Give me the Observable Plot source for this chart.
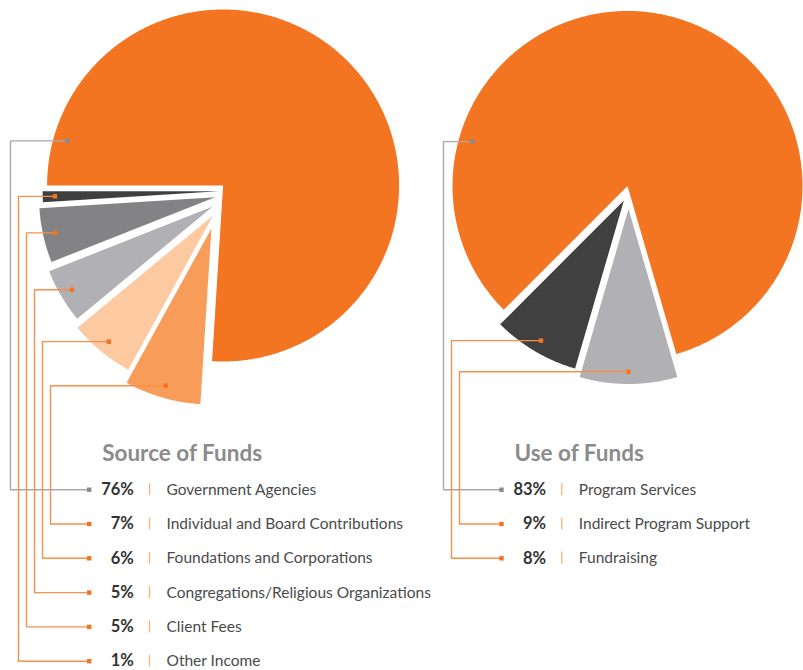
<!DOCTYPE html>
<html>
<head>
<meta charset="utf-8">
<script src="https://cdn.jsdelivr.net/npm/d3@7"></script>
<script src="https://cdn.jsdelivr.net/npm/@observablehq/plot@0.6"></script>
<style>
  html, body { margin: 0; padding: 0; background: #fff; }
  #chart { width: 803px; height: 670px; }
</style>
</head>
<body>
<div id="chart"></div>
<script>
// ---------- DATA ----------
const chartTitles = ["Source of Funds", "Use of Funds"];
const sourceCategories = [
  "Government Agencies",
  "Individual and Board Contributions",
  "Foundations and Corporations",
  "Congregations/Religious Organizations",
  "Client Fees",
  "Other Income"
];
const sourceValues = [76, 7, 6, 5, 5, 1];
const useCategories = ["Program Services", "Indirect Program Support", "Fundraising"];
const useValues = [83, 9, 8];

// ---------- STYLE / LAYOUT ----------
const sourceColors = ["#f37421", "#f89c5a", "#fdc9a0", "#b1b0b4", "#838385", "#3f3f3f"];
const useColors = ["#f37421", "#b1b0b4", "#404040"];
const orangeLine = "#f6904a", grayLine = "#a9a9a9";
const orangeMark = "#f37421", grayMark = "#8a8a8a";

const charts = [
  {title: chartTitles[0], cats: sourceCategories, vals: sourceValues, colors: sourceColors,
   cx: 222.6, cy: 185, r: 176, startDeg: -90,
   explode: [[0,0],[-11.7,43],[-10,30],[-10.3,21],[-8,11.7],[-4.5,5.7]],
   channelX: 10, legendX: 101.7},
  {title: chartTitles[1], cats: useCategories, vals: useValues, colors: useColors,
   cx: 627, cy: 185.5, r: 175, startDeg: -135,
   explode: [[0,0],[1,23],[-3.6,14.5]],
   channelX: 443, legendX: 514}
];
const titleY = 453.3, rowY0 = 489.2, rowStep = 34.3, channelStep = 8;
const bigAnchorDeg = -74;

const marks = [];
const rad = Math.PI / 180;

for (const c of charts) {
  const arcs = d3.pie().sort(null)
    .startAngle(c.startDeg * rad).endAngle(c.startDeg * rad + 2 * Math.PI)(c.vals);
  const anchors = [];
  arcs.forEach((a, i) => {
    const ax = c.cx + c.explode[i][0], ay = c.cy + c.explode[i][1];
    const pts = [{x: ax, y: ay}];
    const n = Math.max(8, Math.ceil((a.endAngle - a.startAngle) / (0.4 * rad)));
    for (let k = 0; k <= n; k++) {
      const t = a.startAngle + (a.endAngle - a.startAngle) * k / n;
      pts.push({x: ax + c.r * Math.sin(t), y: ay - c.r * Math.cos(t)});
    }
    marks.push(Plot.line(pts, {x: "x", y: "y", fill: c.colors[i], stroke: "none", curve: "linear-closed"}));
    let ang, rr;
    if (i === 0) { ang = bigAnchorDeg * rad; rr = 0.92 * c.r; }
    else { ang = (a.startAngle + a.endAngle) / 2; rr = 0.93 * c.r; }
    anchors.push({i, x: ax + rr * Math.sin(ang), y: ay - rr * Math.cos(ang)});
  });
  // channels ordered by anchor height
  const order = anchors.slice().sort((p, q) => p.y - q.y);
  order.forEach((p, k) => { p.chx = c.channelX + channelStep * k; });

  const dotX = c.legendX - 13;
  anchors.forEach(p => {
    const rowY = rowY0 + rowStep * p.i;
    const path = [{x: p.x, y: p.y}, {x: p.chx, y: p.y}, {x: p.chx, y: rowY}, {x: dotX, y: rowY}];
    marks.push(Plot.line(path, {x: "x", y: "y", stroke: p.i === 0 ? grayLine : orangeLine, strokeWidth: 1.4}));
    marks.push(Plot.dot([path[0], path[3]], {x: "x", y: "y", symbol: "square", r: 2.5,
      fill: p.i === 0 ? grayMark : orangeMark, stroke: "none"}));
  });

  // legend
  const rows = c.cats.map((name, i) => ({name, pct: c.vals[i] + "%", y: rowY0 + rowStep * i}));
  marks.push(Plot.text([c.title], {x: c.legendX, y: titleY, text: d => d, textAnchor: "start",
    fontSize: 22.5, fontWeight: "bold", fill: "#8b8b8b"}));
  marks.push(Plot.text(rows, {x: c.legendX + 31.6, y: "y", text: "pct", textAnchor: "end",
    fontSize: 16.5, fontWeight: "bold", fill: "#333333"}));
  marks.push(Plot.ruleX(rows, {x: c.legendX + 47.3, y1: d => d.y - 6, y2: d => d.y + 6,
    stroke: "#f9b27d", strokeWidth: 1.3}));
  marks.push(Plot.text(rows, {x: c.legendX + 64.3, y: "y", text: "name", textAnchor: "start",
    fontSize: 15.5, fill: "#4a4a4a"}));
}

const plot = Plot.plot({
  width: 803, height: 670,
  margin: 0,
  style: {fontFamily: "Lato, 'Open Sans', sans-serif", background: "#fff"},
  x: {domain: [0, 803], range: [0, 803], axis: null},
  y: {domain: [0, 670], range: [0, 670], axis: null},
  marks
});
document.getElementById("chart").appendChild(plot);
</script>
</body>
</html>
